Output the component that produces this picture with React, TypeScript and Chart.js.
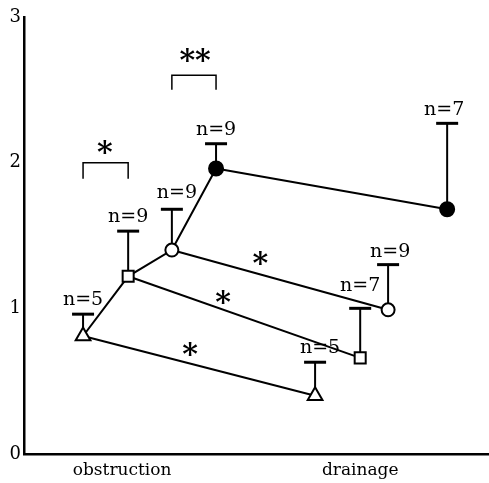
import React, { useEffect, useRef } from "react";
import { Chart, registerables } from "chart.js";

Chart.register(...registerables);

// ---- data ----
const categories = ["obstruction", "drainage"];
const categoryX = [21.1, 72.3];

const triangleX = [12.7, 62.6];
const triangleMean = [0.81, 0.4];
const triangleUpper = [0.96, 0.63];
const triangleN = [5, 5];

const squareX = [22.4, 72.3];
const squareMean = [1.22, 0.66];
const squareUpper = [1.53, 1.0];
const squareN = [9, 7];

const openX = [31.8, 78.3];
const openMean = [1.4, 0.99];
const openUpper = [1.68, 1.3];
const openN = [9, 9];

const filledX = [41.3, 91.0];
const filledMean = [1.96, 1.68];
const filledUpper = [2.13, 2.27];
const filledN = [9, 7];

const yTicks = [0, 1, 2, 3];

// significance marks
const brackets = [
  { x1: 12.7, x2: 22.4, top: 2.0, bottom: 1.89, label: "*", lx: 17.4, ly: 2.1 },
  { x1: 31.8, x2: 41.3, top: 2.6, bottom: 2.5, label: "**", lx: 36.8, ly: 2.73 },
];
const lineStars = [
  { x: 50.8, y: 1.34 },
  { x: 42.8, y: 1.07 },
  { x: 35.7, y: 0.71 },
];

const series = [
  { x: triangleX, mean: triangleMean, upper: triangleUpper, n: triangleN, style: "triangle", fill: "#fff", r: 8.5, dy: [14, 14], dx: [0, 5] },
  { x: squareX, mean: squareMean, upper: squareUpper, n: squareN, style: "rect", fill: "#fff", r: 7.8, dy: [14, 22], dx: [0, 0] },
  { x: openX, mean: openMean, upper: openUpper, n: openN, style: "circle", fill: "#fff", r: 6.5, dy: [16, 13], dx: [5, 2] },
  { x: filledX, mean: filledMean, upper: filledUpper, n: filledN, style: "circle", fill: "#000", r: 7, dy: [14, 13], dx: [0, -3] },
];

const SERIF = "'DejaVu Serif', serif";

const annotPlugin = {
  id: "annot",
  beforeDatasetsDraw(chart: any) {
    const { ctx, scales } = chart;
    const xs = scales.x, ys = scales.y;
    ctx.save();
    ctx.strokeStyle = "#000";
    series.forEach((s) => {
      s.x.forEach((xv, i) => {
        const px = xs.getPixelForValue(xv);
        const pm = ys.getPixelForValue(s.mean[i]);
        const pu = ys.getPixelForValue(s.upper[i]);
        ctx.lineWidth = 2;
        ctx.beginPath();
        ctx.moveTo(px, pm);
        ctx.lineTo(px, pu);
        ctx.stroke();
        ctx.lineWidth = 3;
        ctx.beginPath();
        ctx.moveTo(px - 11, pu);
        ctx.lineTo(px + 11, pu);
        ctx.stroke();
      });
    });
    ctx.restore();
  },
  afterDatasetsDraw(chart: any) {
    const { ctx, scales } = chart;
    const xs = scales.x, ys = scales.y;
    ctx.save();
    ctx.fillStyle = "#000";
    ctx.strokeStyle = "#000";
    ctx.textAlign = "center";
    ctx.textBaseline = "middle";
    ctx.font = `19px ${SERIF}`;
    series.forEach((s) => {
      s.x.forEach((xv, i) => {
        const px = xs.getPixelForValue(xv);
        const pu = ys.getPixelForValue(s.upper[i]);
        ctx.fillText(`n=${s.n[i]}`, px + s.dx[i], pu - s.dy[i]);
      });
    });
    ctx.lineWidth = 1.5;
    brackets.forEach((b) => {
      const x1 = xs.getPixelForValue(b.x1), x2 = xs.getPixelForValue(b.x2);
      const yt = ys.getPixelForValue(b.top), yb = ys.getPixelForValue(b.bottom);
      ctx.beginPath();
      ctx.moveTo(x1, yb);
      ctx.lineTo(x1, yt);
      ctx.lineTo(x2, yt);
      ctx.lineTo(x2, yb);
      ctx.stroke();
    });
    ctx.font = `bold 30px ${SERIF}`;
    brackets.forEach((b) => {
      ctx.fillText(b.label, xs.getPixelForValue(b.lx), ys.getPixelForValue(b.ly) + 6);
    });
    lineStars.forEach((s) => {
      ctx.fillText("*", xs.getPixelForValue(s.x), ys.getPixelForValue(s.y) + 6);
    });
    ctx.restore();
  },
};

export default function App() {
  const ref = useRef<HTMLCanvasElement>(null);
  useEffect(() => {
    if (!ref.current) return;
    const datasets: any[] = series.map((s) => ({
      data: s.x.map((xv, i) => ({ x: xv, y: s.mean[i] })),
      borderColor: "#000",
      borderWidth: 2,
      pointStyle: s.style,
      pointRadius: s.r,
      pointBackgroundColor: s.fill,
      pointBorderColor: "#000",
      pointBorderWidth: 2,
      showLine: true,
    }));
    datasets.push({
      data: series.map((s) => ({ x: s.x[0], y: s.mean[0] })),
      borderColor: "#000",
      borderWidth: 2,
      pointRadius: 0,
      showLine: true,
    });
    const chart = new Chart(ref.current, {
      type: "scatter",
      data: { datasets },
      options: {
        animation: false,
        responsive: false,
        events: [],
        layout: { autoPadding: false, padding: { top: 17, left: 0, right: 0, bottom: 0 } },
        plugins: { legend: { display: false }, tooltip: { enabled: false } },
        scales: {
          x: {
            type: "linear",
            min: 0,
            max: 100,
            afterFit: (sc: any) => { sc.height = 29; },
            afterBuildTicks: (sc: any) => { sc.ticks = categoryX.map((v) => ({ value: v })); },
            ticks: {
              color: "#000",
              font: { family: SERIF, size: 17 },
              padding: 6,
              autoSkip: false,
              maxRotation: 0,
              callback: (v: any) => {
                const i = categoryX.indexOf(Number(v));
                return i >= 0 ? categories[i] : "";
              },
            },
            grid: { drawOnChartArea: false, drawTicks: false },
            border: { display: true, color: "#000", width: 2.5 },
          },
          y: {
            type: "linear",
            min: 0,
            max: 3,
            afterFit: (sc: any) => { sc.width = 24; },
            afterBuildTicks: (sc: any) => { sc.ticks = yTicks.map((v) => ({ value: v })); },
            ticks: {
              color: "#000",
              font: { family: SERIF, size: 18 },
              padding: 3,
            },
            grid: { drawOnChartArea: false, drawTicks: false },
            border: { display: true, color: "#000", width: 2.5 },
          },
        },
      },
      plugins: [annotPlugin],
    });
    return () => chart.destroy();
  }, []);
  return (
    <div style={{ position: "fixed", left: 0, top: 0, width: 489, height: 483, background: "#fff" }}>
      <canvas ref={ref} width={489} height={483} />
    </div>
  );
}
